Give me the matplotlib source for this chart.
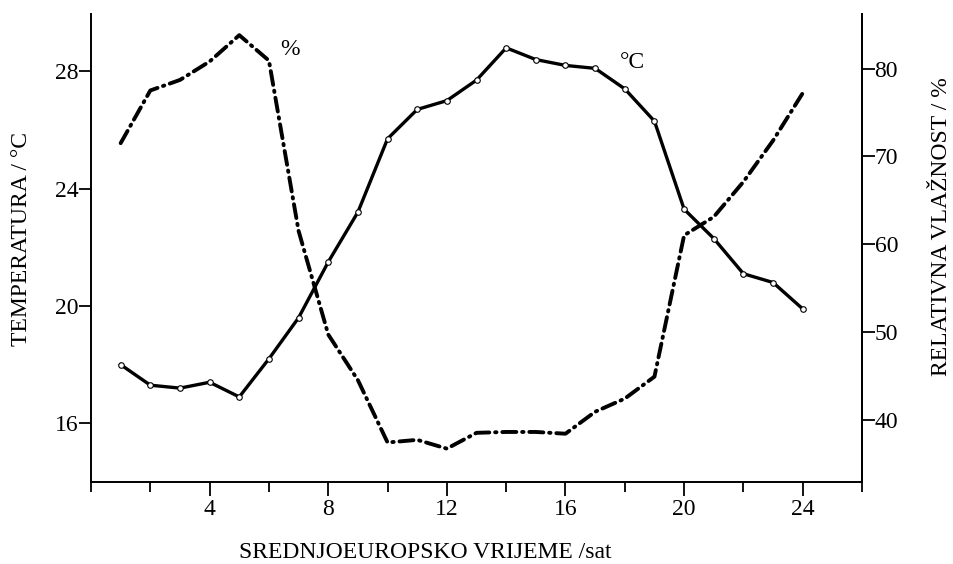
import matplotlib.pyplot as plt
import numpy as np

plt.rcParams['font.family'] = ['Liberation Serif', 'DejaVu Serif']

hours = list(range(1, 25))
temperature = [18.0, 17.3, 17.2, 17.4, 16.9, 18.2, 19.6, 21.5, 23.2, 25.7, 26.7, 27.0,
               27.7, 28.8, 28.4, 28.2, 28.1, 27.4, 26.3, 23.3, 22.3, 21.1, 20.8, 19.9]
humidity = [71.5, 77.5, 78.7, 80.8, 83.8, 80.9, 61.5, 49.7, 44.5, 37.4, 37.7, 36.7,
            38.5, 38.6, 38.6, 38.4, 40.9, 42.4, 44.9, 61.0, 63.1, 67.1, 71.8, 77.2]
x_ticks = [4, 8, 12, 16, 20, 24]
temp_ticks = [16, 20, 24, 28]
hum_ticks = [40, 50, 60, 70, 80]

fig = plt.figure(figsize=(9.54, 5.64), dpi=100)
ax = fig.add_axes([0.0954, 0.1454, 0.8082, 0.8296])
ax2 = ax.twinx()

ax.plot(hours, temperature, color='black', lw=2.4, marker='o', ms=4,
        mfc='white', mec='black', mew=0.8, solid_joinstyle='round')
ax2.plot(hours, humidity, color='black', lw=2.8, linestyle=(0, (3.6, 1.5, 0.35, 1.5)),
         dash_capstyle='round', dash_joinstyle='round')

ax.set_xlim(0, 26)
ax.set_ylim(14, 29.95)
ax2.set_ylim(32.9, 86.2)

ax.set_xticks(x_ticks)
ax.set_xticks([0, 2, 6, 10, 14, 18, 22, 26], minor=True)
ax.set_yticks(temp_ticks)
ax2.set_yticks(hum_ticks)

for a in (ax, ax2):
    a.spines['top'].set_visible(False)
    for s in a.spines.values():
        s.set_linewidth(1.4)
ax2.spines['left'].set_visible(False)
ax2.spines['bottom'].set_visible(False)

ax.tick_params(axis='x', which='major', direction='out', length=10, width=1.3,
               labelsize=17, pad=2)
ax.tick_params(axis='x', which='minor', direction='out', length=7, width=1.3)
ax.tick_params(axis='y', direction='out', length=9, width=1.3, labelsize=17, pad=0)
ax2.tick_params(axis='y', direction='out', length=9, width=1.3, labelsize=17, pad=0)

ax.set_xlabel('SREDNJOEUROPSKO VRIJEME /sat', fontsize=17)
ax.xaxis.set_label_coords(0.434, -0.128)
ax.set_ylabel('TEMPERATURA / °C', fontsize=17)
ax.yaxis.set_label_coords(-0.076, 0.52)
ax2.set_ylabel('RELATIVNA VLAŽNOST / %', fontsize=17)
ax2.yaxis.set_label_coords(1.09, 0.545)

ax.text(6.7, 28.75, '%', fontsize=17, ha='center', va='center')
ax.text(18.25, 28.3, '°C', fontsize=17, ha='center', va='center')

fig.savefig('out.png', dpi=100)
